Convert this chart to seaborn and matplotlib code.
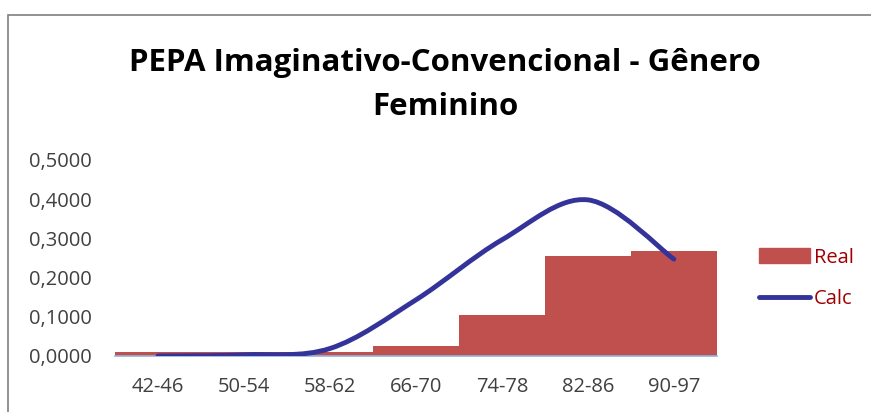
import numpy as np
import pandas as pd
import matplotlib
matplotlib.use('Agg')
import matplotlib.pyplot as plt
import seaborn as sns
from matplotlib.path import Path
from matplotlib.patches import PathPatch, Rectangle
from matplotlib.lines import Line2D
from matplotlib.ticker import FuncFormatter

# dados
faixas = ['42-46', '50-54', '58-62', '66-70', '74-78', '82-86', '90-97']
real = [0.010, 0.010, 0.010, 0.025, 0.105, 0.255, 0.268]
calc = [0.000, 0.003, 0.019, 0.143, 0.296, 0.398, 0.247]

sns.set_theme(style='white')
plt.rcParams['font.family'] = ['Open Sans', 'DejaVu Sans']

df = pd.DataFrame({'faixa': faixas, 'Real': real})

fig = plt.figure(figsize=(8.71, 4.12), dpi=100)
ax = fig.add_axes([0.132, 0.136, 0.691, 0.476])

sns.barplot(data=df, x='faixa', y='Real', color='#C0504D', width=1.0,
            saturation=1, ax=ax, edgecolor='none')

# linha suavizada (estilo Excel, bezier entre os pontos)
xs = np.arange(len(calc))
pts = list(zip(xs, calc))
verts = [pts[0]]
codes = [Path.MOVETO]
for i in range(len(pts) - 1):
    p0 = pts[i - 1] if i > 0 else pts[i]
    p1 = pts[i]
    p2 = pts[i + 1]
    p3 = pts[i + 2] if i + 2 < len(pts) else pts[i + 1]
    c1 = (p1[0] + (p2[0] - p0[0]) / 6, p1[1] + (p2[1] - p0[1]) / 6)
    c2 = (p2[0] - (p3[0] - p1[0]) / 6, p2[1] - (p3[1] - p1[1]) / 6)
    verts += [c1, c2, p2]
    codes += [Path.CURVE4] * 3
ax.add_patch(PathPatch(Path(verts, codes), facecolor='none', edgecolor='#333399',
                       lw=3.5, capstyle='round', joinstyle='round', zorder=3))

ax.set_xlim(-0.5, 6.5)
ax.set_ylim(0, 0.5)
ax.set_yticks(np.arange(0, 0.51, 0.1))
ax.yaxis.set_major_formatter(FuncFormatter(lambda v, p: f'{v:.4f}'.replace('.', ',')))
ax.set_xlabel('')
ax.set_ylabel('')
for s in ['top', 'right', 'left']:
    ax.spines[s].set_visible(False)
ax.spines['bottom'].set_color('#8EB4E3')
ax.spines['bottom'].set_linewidth(1.2)
ax.tick_params(axis='both', length=0, labelsize=14.5, colors='#404040')
ax.tick_params(axis='y', pad=16.5)
ax.tick_params(axis='x', pad=15)

fig.text(0.511, 0.848, 'PEPA Imaginativo-Convencional - Gênero', ha='center', va='center',
         fontsize=22.5, fontweight='bold', color='black')
fig.text(0.511, 0.74, 'Feminino', ha='center', va='center',
         fontsize=22.5, fontweight='bold', color='black')

handles = [Rectangle((0, 0), 1, 1, color='#C0504D'),
           Line2D([0], [0], color='#333399', lw=3.5, solid_capstyle='round')]
leg = fig.legend(handles, ['Real', 'Calc'], loc='center left', bbox_to_anchor=(0.851, 0.325),
                 frameon=False, fontsize=14.5, labelcolor='#A00000', handlelength=2.5,
                 handleheight=0.7, labelspacing=1.05, handletextpad=0.2)

fig.patches.append(Rectangle((0.0095, -0.1), 1.2, 1.064, transform=fig.transFigure,
                             fill=False, edgecolor='#7F7F7F', lw=1.2))

fig.savefig('out.png', dpi=100)
